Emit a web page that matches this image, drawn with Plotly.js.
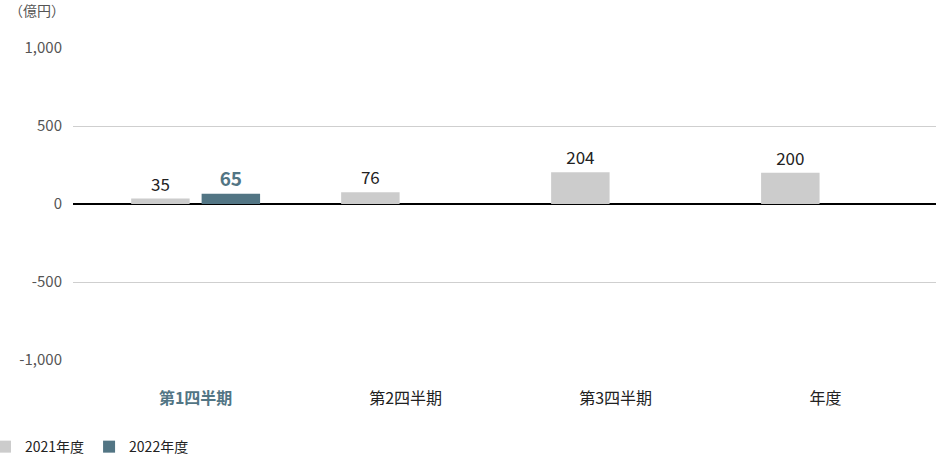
<!DOCTYPE html>
<html>
<head>
<meta charset="utf-8">
<script src="https://cdn.plot.ly/plotly-3.0.1.min.js"></script>
<style>
  html, body { margin: 0; padding: 0; background: #fff; }
  #chart { width: 936px; height: 456px; }
</style>
</head>
<body>
<div id="chart"></div>
<script>
const categories = ['第1四半期', '第2四半期', '第3四半期', '年度'];
const tickLabels = [
    '<b><span style="color:#527584">第1四半期</span></b>',
    '第2四半期', '第3四半期', '年度'
];
const values2021 = [35, 76, 204, 200];
const values2022 = [65, null, null, null];
const seriesNames = ['2021年度', '2022年度'];

const font = '"Noto Sans CJK JP", "Noto Sans", sans-serif';
const grey = '#cccccc';
const teal = '#527584';

const data = [
    {
        type: 'bar',
        name: seriesNames[0],
        x: categories,
        y: values2021,
        marker: { color: grey },
        text: values2021.map(v => v === null ? '' : String(v)),
        textposition: 'outside',
        cliponaxis: false,
        textfont: { family: font, size: 17, color: '#222' },
        hoverinfo: 'skip'
    },
    {
        type: 'bar',
        name: seriesNames[1],
        x: categories,
        y: values2022,
        marker: { color: teal },
        text: values2022.map(v => v === null ? '' : String(v)),
        textposition: 'outside',
        cliponaxis: false,
        textfont: { family: font, size: 19, color: teal, weight: 'bold' },
        hoverinfo: 'skip'
    }
];

const layout = {
    width: 936,
    height: 456,
    margin: { l: 73, r: 0, t: 48, b: 96, autoexpand: false },
    paper_bgcolor: '#fff',
    plot_bgcolor: '#fff',
    font: { family: font, color: '#222' },
    barmode: 'group',
    bargap: 0.329,
    bargroupgap: 0.17,
    showlegend: true,
    legend: {
        orientation: 'h',
        x: -0.102,
        xanchor: 'left',
        y: -0.279,
        yanchor: 'middle',
        font: { family: font, size: 14, color: '#222' },
        itemwidth: 30,
        traceorder: 'normal'
    },
    xaxis: {
        type: 'category',
        range: [-0.584, 3.526],
        tickvals: categories,
        ticktext: tickLabels,
        showgrid: false,
        showline: false,
        zeroline: false,
        ticks: '',
        automargin: false,
        ticklabelstandoff: 27,
        tickfont: { family: font, size: 16, color: '#222' },
        fixedrange: true
    },
    yaxis: {
        range: [-1000, 1000],
        tickvals: [-1000, -500, 0, 500, 1000],
        ticktext: ['-1,000', '-500', '0', '500', '1,000'],
        showgrid: true,
        gridcolor: '#cfcfcf',
        gridwidth: 1,
        zeroline: true,
        zerolinecolor: '#000',
        zerolinewidth: 1.5,
        showline: false,
        ticks: '',
        automargin: false,
        ticklabelstandoff: 10,
        tickfont: { family: font, size: 15, color: '#555' },
        fixedrange: true
    },
    annotations: [
        {
            text: '（億円）',
            xref: 'paper', yref: 'paper',
            x: -0.0846, y: 1.0,
            xanchor: 'left', yanchor: 'middle',
            xshift: 7,
            yshift: 38,
            showarrow: false,
            font: { family: font, size: 14, color: '#555' }
        }
    ]
};

Plotly.newPlot('chart', data, layout, { displayModeBar: false, staticPlot: true });
</script>
</body>
</html>
